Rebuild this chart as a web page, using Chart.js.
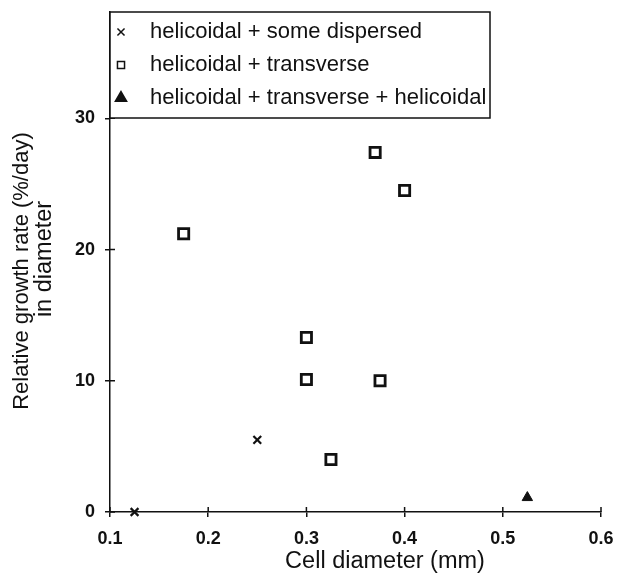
<!DOCTYPE html>
<html>
<head>
<meta charset="utf-8">
<script src="https://cdn.jsdelivr.net/npm/chart.js@4.4.1/dist/chart.umd.min.js"></script>
<style>
  html, body { margin: 0; padding: 0; background: #fff; }
</style>
</head>
<body>
<canvas id="chart" width="617" height="577"></canvas>
<script>
// Growth rate vs cell diameter, grouped by wall texture
const seriesLabels = ['helicoidal + some dispersed', 'helicoidal + transverse', 'helicoidal + transverse + helicoidal'];
const dispersedX = [0.125, 0.25];
const dispersedY = [0, 5.5];
const transverseX = [0.175, 0.3, 0.3, 0.325, 0.37, 0.375, 0.4];
const transverseY = [21.2, 13.3, 10.1, 4.0, 27.4, 10.0, 24.5];
const tripleX = [0.525];
const tripleY = [1.1];
const xTicks = [0.1, 0.2, 0.3, 0.4, 0.5, 0.6];
const yTicks = [0, 10, 20, 30];
const xTitle = 'Cell diameter (mm)';
const yTitle = ['Relative growth rate (%/day)', 'in diameter'];

const FONT = '"Liberation Sans", Arial, Helvetica, sans-serif';
const INK = '#111';

const toPoints = (xs, ys) => xs.map((x, i) => ({ x: x, y: ys[i] }));

// ticks that cross the axis line (inner half; outer half is the grid tick)
const innerTicks = {
  id: 'innerTicks',
  afterDraw(chart) {
    const c = chart.ctx, a = chart.chartArea;
    const xs = chart.scales.x, ys = chart.scales.y;
    c.save();
    c.strokeStyle = INK;
    c.lineWidth = 1.5;
    c.beginPath();
    xTicks.forEach(v => {
      const px = xs.getPixelForValue(v);
      c.moveTo(px, a.bottom);
      c.lineTo(px, a.bottom - 5);
    });
    yTicks.forEach(v => {
      const py = ys.getPixelForValue(v);
      c.moveTo(a.left, py);
      c.lineTo(a.left + 5, py);
    });
    c.stroke();
    c.restore();
  }
};

// boxed legend sitting in the top-left corner of the plot
const boxLegend = {
  id: 'boxLegend',
  afterDraw(chart) {
    const c = chart.ctx, a = chart.chartArea;
    const left = a.left, top = a.top, right = 490, bottom = 118;
    c.save();
    c.fillStyle = '#fff';
    c.fillRect(left, top, right - left, bottom - top);
    c.strokeStyle = INK;
    c.lineWidth = 1.5;
    c.strokeRect(left, top, right - left, bottom - top);
    c.font = '22px ' + FONT;
    c.textBaseline = 'middle';
    c.textAlign = 'left';
    chart.data.datasets.forEach((ds, i) => {
      const cy = top + 20 + i * 33;
      c.fillStyle = ds.backgroundColor;
      c.strokeStyle = ds.borderColor;
      Chart.helpers.drawPoint(c, {
        pointStyle: ds.pointStyle,
        radius: ds.pointStyle === 'triangle' ? 6.5 : 5,
        rotation: 0,
        borderWidth: 2
      }, left + 11, cy);
      c.fillStyle = INK;
      c.fillText(ds.label, left + 40, cy);
    });
    c.restore();
  }
};

// axis titles placed like the printed figure
const axisTitles = {
  id: 'axisTitles',
  afterDraw(chart) {
    const c = chart.ctx;
    c.save();
    c.fillStyle = INK;
    c.textAlign = 'center';
    c.textBaseline = 'middle';
    c.font = '23.5px ' + FONT;
    c.fillText(xTitle, 385, 562);
    c.translate(22, 271);
    c.rotate(-Math.PI / 2);
    c.font = '22px ' + FONT;
    c.fillText(yTitle[0], 0, 0);
    c.restore();
    c.save();
    c.fillStyle = INK;
    c.font = '23.5px ' + FONT;
    c.textAlign = 'center';
    c.textBaseline = 'middle';
    c.translate(45, 259);
    c.rotate(-Math.PI / 2);
    c.fillText(yTitle[1], 0, 0);
    c.restore();
  }
};

new Chart(document.getElementById('chart').getContext('2d'), {
  type: 'scatter',
  data: {
    datasets: [
      {
        label: seriesLabels[0],
        data: toPoints(dispersedX, dispersedY),
        pointStyle: 'crossRot',
        pointRadius: 5.5,
        borderWidth: 2.2,
        borderColor: INK,
        backgroundColor: INK
      },
      {
        label: seriesLabels[1],
        data: toPoints(transverseX, transverseY),
        pointStyle: 'rect',
        pointRadius: 7.2,
        borderWidth: 2.8,
        borderColor: INK,
        backgroundColor: '#fff'
      },
      {
        label: seriesLabels[2],
        data: toPoints(tripleX, tripleY),
        pointStyle: 'triangle',
        pointRadius: 6,
        borderWidth: 1,
        borderColor: INK,
        backgroundColor: INK
      }
    ]
  },
  options: {
    responsive: false,
    animation: false,
    clip: false,
    layout: { padding: { top: 12, right: 16, bottom: 0, left: 0 } },
    plugins: {
      legend: { display: false },
      tooltip: { enabled: false }
    },
    scales: {
      x: {
        type: 'linear',
        min: 0.1,
        max: 0.6,
        afterBuildTicks: s => { s.ticks = xTicks.map(v => ({ value: v })); },
        afterFit: s => { s.height = 65; s.paddingLeft = 0; s.paddingRight = 0; },
        ticks: {
          padding: 11,
          color: INK,
          font: { family: FONT, size: 18, weight: 'bold' },
          callback: v => v.toFixed(1)
        },
        grid: { drawOnChartArea: false, drawTicks: true, tickLength: 5, color: INK, lineWidth: 1.5 },
        border: { color: INK, width: 1.5 }
      },
      y: {
        type: 'linear',
        min: 0,
        max: 38.1,
        afterBuildTicks: s => { s.ticks = yTicks.map(v => ({ value: v })); },
        afterFit: s => { s.width = 110; s.paddingTop = 0; s.paddingBottom = 0; },
        ticks: {
          padding: 10,
          color: INK,
          font: { family: FONT, size: 18, weight: 'bold' },
          callback: v => String(v)
        },
        grid: { drawOnChartArea: false, drawTicks: true, tickLength: 5, color: INK, lineWidth: 1.5 },
        border: { color: INK, width: 1.5 }
      }
    }
  },
  plugins: [innerTicks, boxLegend, axisTitles]
});
</script>
</body>
</html>
